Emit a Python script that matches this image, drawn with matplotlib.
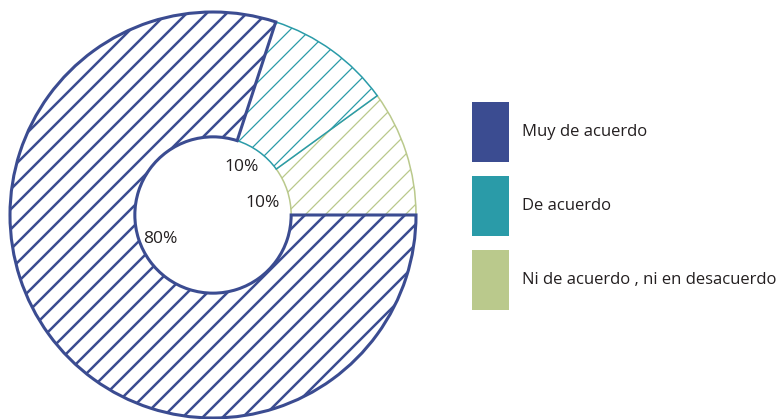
import matplotlib
matplotlib.use("Agg")
import matplotlib.pyplot as plt
import matplotlib.hatch as mhatch
from matplotlib.patches import Patch, Rectangle
from matplotlib.legend_handler import HandlerPatch

plt.rcParams['font.family'] = ['Open Sans', 'DejaVu Sans']

categories = ["Muy de acuerdo", "De acuerdo", "Ni de acuerdo , ni en desacuerdo"]
values = [80, 10, 10]
colors = ["#3b4c91", "#2a9ba8", "#bac98c"]


# slightly sparser diagonal hatch (about 20 px between lines)
class _SparseNE(mhatch.NorthEastHatch):
    def __init__(self, hatch, density):
        super().__init__(hatch, density)
        n = hatch.count('/')
        if n:
            self.num_lines = int(n * 5)
            self.num_vertices = (self.num_lines + 1) * 2


try:
    mhatch._hatch_types[mhatch._hatch_types.index(mhatch.NorthEastHatch)] = _SparseNE
except Exception:
    pass

fig = plt.figure(figsize=(7.78, 4.19), dpi=100)
ax = fig.add_axes([10/778, 1/419, 406/778, 406/419])

# Draw order: Ni (0-36deg), De acuerdo (36-72), Muy (72-360), counterclockwise from 0
order = [2, 1, 0]
vals = [values[i] for i in order]
wedges, texts, autotexts = ax.pie(
    vals, startangle=0, counterclock=True, radius=1.0,
    autopct=lambda p: f"{p:.0f}%", pctdistance=0.28,
    wedgeprops=dict(width=0.615, facecolor="white"),
    textprops=dict(fontsize=12.5, color="#231f20"))

lws = {0: 2.2, 1: 1.1, 2: 1.1}
hlws = {0: 1.8, 1: 0.9, 2: 0.9}
for w, idx in zip(wedges, order):
    w.set_facecolor("white")
    w.set_edgecolor(colors[idx])
    w.set_linewidth(lws[idx])
    w.set_hatch("//")
    if hasattr(w, "set_hatch_linewidth"):
        w.set_hatch_linewidth(hlws[idx])

for t, idx in zip(autotexts, order):
    if idx == 0:
        t.set_position((-0.26, -0.118))
    elif idx == 1:
        t.set_position((0.14, 0.235))
    else:
        t.set_position((0.245, 0.06))

ax.set_xlim(-1, 1)
ax.set_ylim(-1, 1)
ax.set_aspect("auto")
ax.axis("off")

SW_W = 37 * 72 / 100.0
SW_H = 60 * 72 / 100.0


def swatch(legend, orig_handle, xdescent, ydescent, width, height, fontsize):
    cy = -ydescent + height / 2.0
    return Rectangle((-xdescent, cy - SW_H / 2.0), SW_W, SW_H)


handles = [Patch(facecolor=c, edgecolor="none") for c in colors]
fig.legend(handles, categories, loc="upper left",
           bbox_to_anchor=(472/778, 1 - 110/419), bbox_transform=fig.transFigure,
           frameon=False, fontsize=12, handlelength=SW_W / 12, handleheight=SW_H / 12,
           labelspacing=1.86, handletextpad=0.75, borderpad=0, borderaxespad=0,
           labelcolor="#231f20",
           handler_map={Patch: HandlerPatch(patch_func=swatch)})

fig.savefig("out.png", dpi=100)
